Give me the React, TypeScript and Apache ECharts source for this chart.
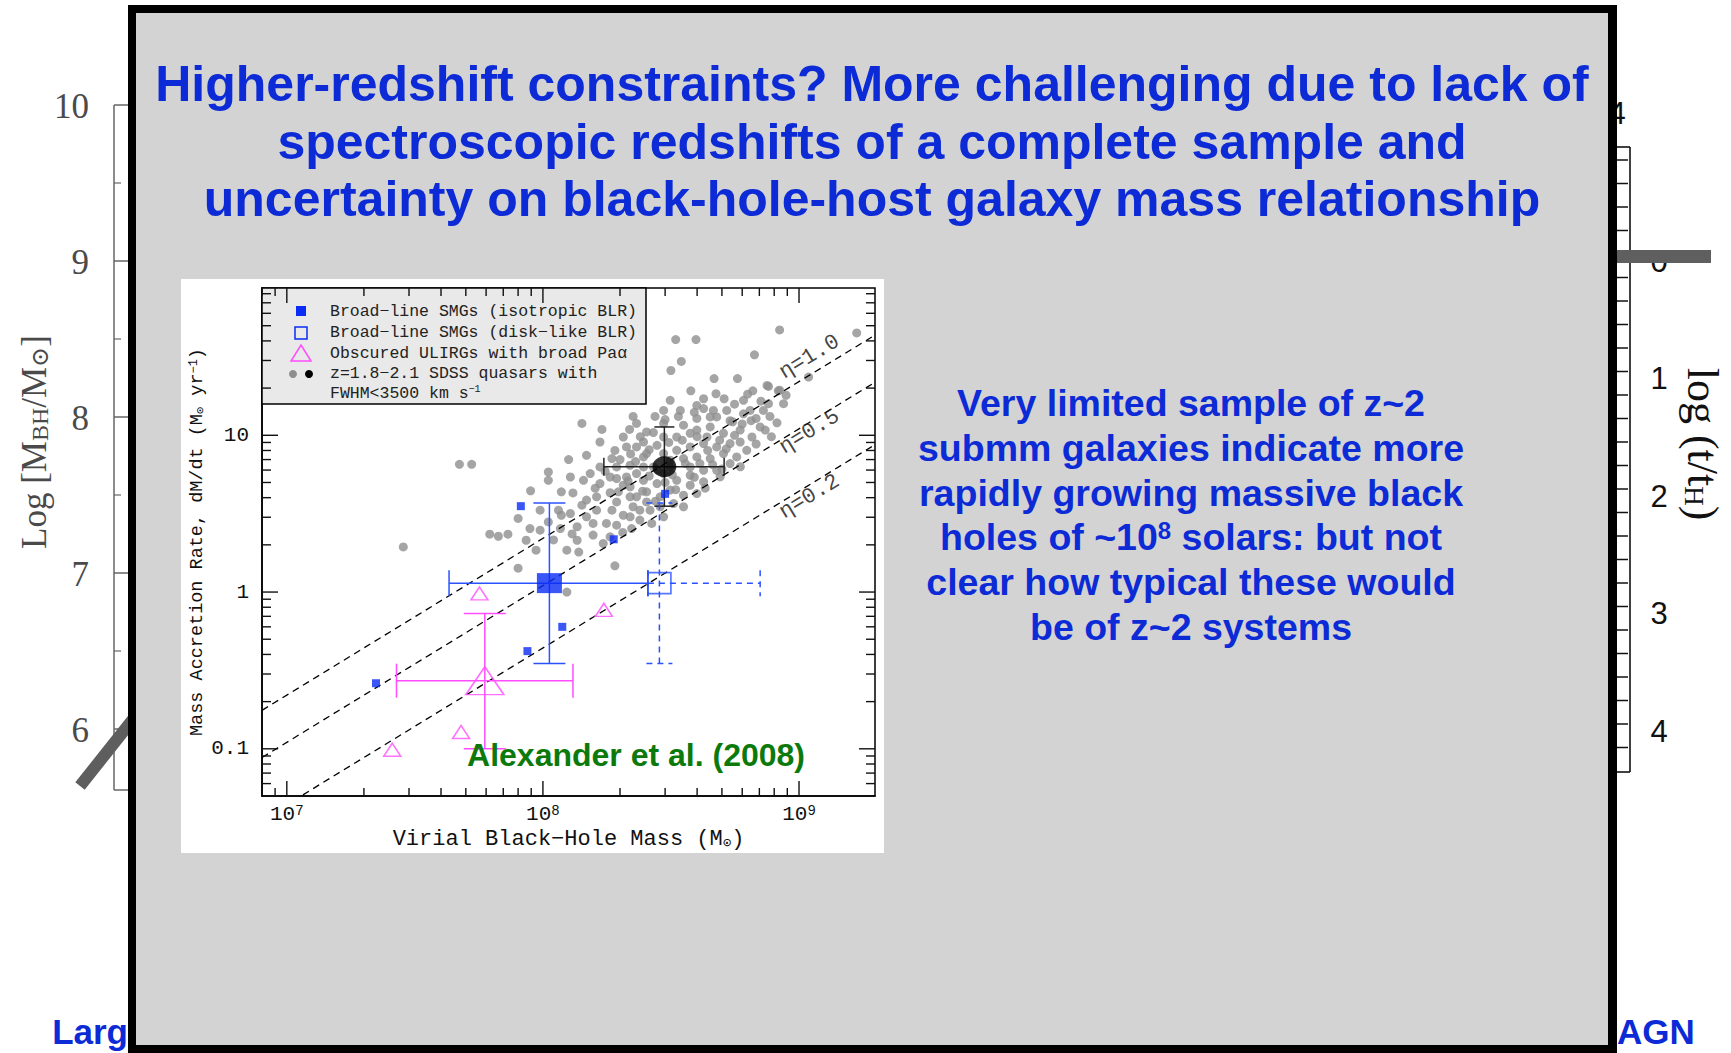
import React, { useEffect, useRef } from "react";
import * as echarts from "echarts";

const W = 1731;
const H = 1053;

// z=1.8-2.1 SDSS quasars with FWHM < 3500 km/s: [virial BH mass (Msun), accretion rate (Msun/yr)]
const sdssQuasars: [number, number][] = [
  [8.4e8, 47], [1.68e9, 45], [3.3e8, 40.8], [3.96e8, 40.8], [6.7e8, 32.6], [3.47e8, 29.6],
  [3.16e8, 25.9], [4.66e8, 23], [5.75e8, 23], [1.09e9, 23.5], [7.6e8, 20.5], [6.6e8, 19.2],
  [8.3e8, 19.2], [3.78e8, 19.2], [4.74e8, 18.4], [3.14e8, 16.7], [5.1e8, 17.1], [7.1e8, 16.5],
  [8.7e8, 15.9], [3.99e8, 15.5], [4.24e8, 14.8], [2.25e8, 13.2], [2.74e8, 13.2], [3.38e8, 13.2],
  [1.42e8, 11.9], [1.7e8, 10.9], [7.7e8, 13.2], [6.5e8, 12.4], [5.5e8, 12.2], [4.77e8, 13.1],
  [2.32e8, 11.9], [2.18e8, 10.9], [4.72e7, 6.53], [5.27e7, 6.53], [1.05e8, 5.83], [1.05e8, 5.16],
  [8.95e7, 4.42], [1.26e8, 7.0], [1.48e8, 7.45], [1.67e8, 9.06], [1.91e8, 8.0], [2.12e8, 8.43],
  [2.47e8, 9.06], [2.54e8, 10.5], [2.96e8, 9.75], [1.86e8, 7.1], [2.19e8, 6.44], [1.53e8, 5.7],
  [1.31e8, 4.29], [1.48e8, 3.86], [1.67e8, 4.92], [1.94e8, 5.3], [1.83e8, 4.3], [2.19e8, 4.69],
  [2.47e8, 5.16], [2.54e8, 4.36], [2.25e8, 3.5], [2.62e8, 3.33], [2.06e8, 3.09], [2.39e8, 2.88],
  [2.66e8, 2.74], [1.86e8, 3.33], [1.62e8, 3.33], [1.42e8, 3.58], [1.28e8, 3.17], [1.15e8, 3.33],
  [1.05e8, 2.8], [1.17e8, 2.54], [1.36e8, 2.61], [1.57e8, 2.74], [1.57e8, 2.31], [1.36e8, 2.14],
  [1.24e8, 1.85], [1.38e8, 1.8], [1.72e8, 2.04], [1.94e8, 2.67], [2.22e8, 2.54], [1.91e8, 1.47],
  [8.0e7, 1.42], [9.4e7, 1.85], [8.6e7, 2.14], [8.9e7, 2.54], [8.0e7, 2.95], [6.2e7, 2.34],
  [6.7e7, 2.27], [7.3e7, 2.34], [9.75e7, 2.48], [1.18e8, 3.09], [1.24e8, 1.0], [3.44e8, 14.4],
  [2.96e8, 14.4], [3.54e8, 11.6], [3.99e8, 10.8], [4.5e8, 11.3], [5.07e8, 10.3], [5.89e8, 10.8],
  [6.55e8, 9.75], [5.38e8, 8.85], [4.77e8, 8.43], [4.24e8, 8.85], [3.76e8, 8.43], [3.33e8, 8.02],
  [3.54e8, 7.1], [3.99e8, 7.28], [4.5e8, 7.1], [4.77e8, 5.98], [4.24e8, 5.98], [3.76e8, 5.56],
  [3.33e8, 5.16], [3.76e8, 4.8], [4.24e8, 5.05], [3.54e8, 4.15], [3.24e8, 3.67], [2.87e8, 4.05],
  [2.54e8, 3.76], [3.14e8, 6.93], [2.47e8, 7.28], [2.32e8, 5.7], [2.79e8, 4.92], [2.19e8, 4.05],
  [1.94e8, 3.76], [2.96e8, 3.02], [2.19e8, 3.02], [5.71e8, 7.28], [6.25e8, 8.02], [5.38e8, 6.6],
  [4.92e8, 5.43], [7.05e8, 11.3], [6.07e8, 13.7], [5.22e8, 14.4], [6.07e8, 16.7], [7.26e8, 14.4],
  [6.44e8, 14.4], [4.63e8, 14.4], [3.99e8, 12.8], [2.96e8, 11.9], [2.79e8, 8.63], [1.94e8, 6.28],
  [1.67e8, 6.28], [1.44e8, 5.16], [1.28e8, 5.42], [1.18e8, 4.36], [1.62e8, 4.05], [2.06e8, 4.8],
  [1.77e8, 2.74], [1.83e8, 2.25], [2.32e8, 4.05], [3.14e8, 6.28], [3.76e8, 6.28], [3.33e8, 9.75],
  [3.76e8, 10.3], [4.37e8, 9.75], [5.07e8, 7.64], [5.89e8, 9.06], [7.38e8, 10.8], [2.7e8, 6.28],
  [2.47e8, 6.28], [2.12e8, 5.42], [3.14e8, 4.47], [3.99e8, 4.25], [2.87e8, 3.5], [1.97e8, 4.36],
  [2.96e8, 7.64], [2.32e8, 8.43], [2.06e8, 9.75], [1.83e8, 5.42], [2.96e8, 5.7], [4.5e8, 13.1],
  [5.38e8, 12.4], [4.24e8, 17.1], [2.54e8, 7.64], [3.54e8, 3.5], [2.39e8, 3.33], [1.48e8, 3.02],
  [9.75e7, 3.33], [2.85e7, 1.94], [7.5e8, 20.8], [8.9e8, 18.0], [8.4e8, 19.4], [7.6e8, 15.9],
  [2.0e8, 7.0], [2.3e8, 6.8], [2.6e8, 5.5], [2.8e8, 6.0], [3.0e8, 5.0], [3.3e8, 4.5],
  [3.6e8, 6.6], [3.9e8, 5.4], [4.1e8, 6.6], [4.4e8, 8.0], [4.9e8, 9.3], [5.2e8, 8.2],
  [5.6e8, 10.0], [6.0e8, 11.8], [6.8e8, 12.8], [3.1e8, 9.0], [3.5e8, 9.3], [2.7e8, 10.4],
  [2.4e8, 9.8], [2.2e8, 7.6], [1.75e8, 5.9], [1.6e8, 4.6], [2.45e8, 4.4], [2.75e8, 3.8],
  [3.2e8, 5.6], [4.6e8, 6.5], [5.9e8, 6.3], [6.8e8, 8.8], [7.8e8, 9.8], [8.2e8, 12.0],
  [4.0e8, 9.8], [3.0e8, 12.6], [3.9e8, 14.0], [5.6e8, 15.8], [6.3e8, 18.3], [2.05e8, 2.4],
  [1.3e8, 2.35], [1.1e8, 2.15], [4.3e8, 4.6], [5.0e8, 6.1], [2.15e8, 5.1], [2.6e8, 8.1],
];

// SDSS mean point with errors: [M, rate, Mlo, Mhi, rateLo, rateHi]
const sdssMeanErr = [[2.98e8, 6.3, 1.73e8, 5.1e8, 3.53, 11.3]];

// Broad-line SMGs, isotropic BLR
const smgIsotropic: [number, number][] = [
  [8.2e7, 3.53], [3.0e8, 4.23], [1.89e8, 2.17], [1.19e8, 0.6], [8.7e7, 0.42], [2.23e7, 0.262],
];
const smgIsotropicErr = [[1.06e8, 1.14, 4.3e7, 2.57e8, 0.35, 3.7]];

// Broad-line SMGs, disk-like BLR (mean only)
const smgDiskErr = [[2.85e8, 1.14, 2.57e8, 7.05e8, 0.35, 3.7]];

// Obscured ULIRGs with broad Pa-alpha
const ulirgs: [number, number][] = [[5.65e7, 0.98], [1.73e8, 0.77], [4.79e7, 0.128], [2.58e7, 0.0986]];
const ulirgErr = [[5.93e7, 0.272, 2.68e7, 1.31e8, 0.1, 0.73]];

// Eddington ratios of the reference lines and where their labels sit
const etaValues = [1.0, 0.5, 0.2];
const etaLabelPos: [number, number][] = [[1.1e9, 31.5], [1.1e9, 10.5], [1.1e9, 4.05]];
const RATE_EDD_1E8 = 2.2; // Msun/yr accreted at eta=1 by a 1e8 Msun black hole

const massRange = [8e6, 1.98e9];
const rateRange = [0.05, 87];
const massMajor = [1e7, 1e8, 1e9];
const massMinor = [8e6, 9e6, 2e7, 3e7, 4e7, 5e7, 6e7, 7e7, 8e7, 9e7, 2e8, 3e8, 4e8, 5e8, 6e8, 7e8, 8e8, 9e8];
const rateMajor = [0.1, 1, 10];
const rateMinor = [0.06, 0.07, 0.08, 0.09, 0.2, 0.3, 0.4, 0.5, 0.6, 0.7, 0.8, 0.9, 2, 3, 4, 5, 6, 7, 8, 9, 20, 30, 40, 50, 60, 70, 80];

// Axis labels of the slide's underlying figure
const bgMassLabels = [10, 9, 8, 7, 6];
const bgTimeLabels = [0, 1, 2, 3, 4];

const titleLines = [
  "Higher-redshift constraints? More challenging due to lack of",
  "spectroscopic redshifts of a complete sample and",
  "uncertainty on black-hole-host galaxy mass relationship",
];
const noteLines = [
  "Very limited sample of z~2",
  "submm galaxies indicate more",
  "rapidly growing massive black",
  "holes of ~10{s|8} solars: but not",
  "clear how typical these would",
  "be of z~2 systems",
];

const MONO = '"Liberation Mono", "DejaVu Sans Mono", monospace';
const SERIF = '"Liberation Serif", "DejaVu Serif", serif';
const SANS = '"Liberation Sans", Arial, sans-serif';
const SLIDE = '"Liberation Sans", Arial, sans-serif';
const SLIDE_BLUE = "#0c2bd6";
const BLUE = "#0a2cf5";
const BLUE_LINE = "#2a52ff";
const MAGENTA = "#ff4dff";
const INK = "#111";

function errorBars(data: number[][], color: string, dashed: boolean, capH: number, capV: number, z: number) {
  return {
    type: "custom",
    data,
    z,
    silent: true,
    encode: { x: 0, y: 1 },
    renderItem: (_p: any, api: any) => {
      const x = api.value(0);
      const y = api.value(1);
      const pL = api.coord([api.value(2), y]);
      const pR = api.coord([api.value(3), y]);
      const pB = api.coord([x, api.value(4)]);
      const pT = api.coord([x, api.value(5)]);
      const style = { stroke: color, lineWidth: 1.5, lineDash: dashed ? [6, 5] : null, fill: null };
      const seg = (x1: number, y1: number, x2: number, y2: number) => ({
        type: "line",
        shape: { x1, y1, x2, y2 },
        style,
      });
      return {
        type: "group",
        children: [
          seg(pL[0], pL[1], pR[0], pR[1]),
          seg(pL[0], pL[1] - capH, pL[0], pL[1] + capH),
          seg(pR[0], pR[1] - capH, pR[0], pR[1] + capH),
          seg(pB[0], pB[1], pT[0], pT[1]),
          seg(pB[0] - capV, pB[1], pB[0] + capV, pB[1]),
          seg(pT[0] - capV, pT[1], pT[0] + capV, pT[1]),
        ],
      };
    },
  };
}

function buildGraphics() {
  const g: any[] = [];
  const ln = (x1: number, y1: number, x2: number, y2: number, stroke: string, lw: number, z: number) =>
    g.push({ type: "line", z, shape: { x1, y1, x2, y2 }, style: { stroke, lineWidth: lw } });

  // underlying figure, left axis
  const yMass = (v: number) => 105 + (10 - v) * 156;
  ln(114, yMass(10), 114, 790, "#666", 1.5, -10);
  ln(114, 790, 130, 790, "#666", 1.5, -10);
  bgMassLabels.forEach((v) => {
    ln(114, yMass(v), 130, yMass(v), "#666", 1.5, -10);
    if (v > 6) ln(114, yMass(v - 0.5), 121, yMass(v - 0.5), "#666", 1.2, -10);
    g.push({
      type: "text", z: -10, x: 89, y: yMass(v) + 1,
      style: { text: String(v), textAlign: "right", textVerticalAlign: "middle", fontFamily: SERIF, fontSize: 35, fill: "#4a4a4a" },
    });
  });
  g.push({
    type: "text", z: -10, x: 34, y: 442, rotation: Math.PI / 2,
    style: {
      text: "Log [M{sub|BH}/M{sub|⊙}]", textAlign: "center", textVerticalAlign: "middle",
      fontFamily: SERIF, fontSize: 35, fill: "#4a4a4a",
      rich: { sub: { fontFamily: SERIF, fontSize: 24, fill: "#4a4a4a", verticalAlign: "bottom" } },
    },
  });
  ln(80, 786, 134, 718, "#5e5e5e", 12, -10);

  // underlying figure, right axis
  const yTime = (v: number) => 261 + v * 117.5;
  ln(1630, 147, 1630, 772, INK, 1.6, -10);
  ln(1610, 147, 1630, 147, INK, 1.6, -10);
  ln(1610, 772, 1630, 772, INK, 1.6, -10);
  for (let k = -4; k <= 21; k++) ln(1614, 254 + 23.5 * k, 1628, 254 + 23.5 * k, INK, 1.5, -10);
  bgTimeLabels.forEach((v) => {
    g.push({
      type: "text", z: -10, x: 1659, y: yTime(v),
      style: { text: String(v), textAlign: "center", textVerticalAlign: "middle", fontFamily: SANS, fontSize: 31, fill: INK },
    });
  });
  g.push({
    type: "text", z: -10, x: 1617, y: 113,
    style: { text: "4", textAlign: "center", textVerticalAlign: "middle", fontFamily: SANS, fontSize: 31, fill: INK },
  });
  g.push({
    type: "text", z: -10, x: 1702, y: 444, rotation: -Math.PI / 2,
    style: {
      text: "log (t/t{sub|H})", textAlign: "center", textVerticalAlign: "middle",
      fontFamily: SERIF, fontSize: 44, fill: INK,
      rich: { sub: { fontFamily: SERIF, fontSize: 27, fill: INK, verticalAlign: "bottom" } },
    },
  });
  g.push({ type: "rect", z: -9, shape: { x: 1616, y: 250, width: 95, height: 13 }, style: { fill: "#5f5f5f" } });
  g.push({
    type: "text", z: -10, x: 128, y: 1031,
    style: { text: "Larg", textAlign: "right", textVerticalAlign: "middle", fontFamily: SLIDE, fontWeight: "bold", fontSize: 35, fill: SLIDE_BLUE },
  });
  g.push({
    type: "text", z: -10, x: 1617, y: 1031,
    style: { text: "AGN", textAlign: "left", textVerticalAlign: "middle", fontFamily: SLIDE, fontWeight: "bold", fontSize: 35, fill: SLIDE_BLUE },
  });

  // slide frame
  g.push({ type: "rect", z: -5, shape: { x: 128, y: 5, width: 1489, height: 1048 }, style: { fill: "#000" } });
  g.push({ type: "rect", z: -5, shape: { x: 136, y: 13, width: 1472, height: 1032 }, style: { fill: "#d3d3d3" } });
  // white panel of the embedded figure
  g.push({ type: "rect", z: -4, shape: { x: 181, y: 279, width: 703, height: 574 }, style: { fill: "#fff" } });

  // legend panel
  g.push({
    type: "rect", z: 1, shape: { x: 262, y: 288, width: 384, height: 116 },
    style: { fill: "#e9e9e9", stroke: "#000", lineWidth: 1.5 },
  });
  const legText = (y: number, text: string) =>
    g.push({
      type: "text", z: 3, x: 330, y,
      style: {
        text, textAlign: "left", textVerticalAlign: "middle", fontFamily: MONO, fontSize: 16.5, fill: "#222",
        rich: { sup: { fontFamily: MONO, fontSize: 10, fill: "#222", verticalAlign: "top" } },
      },
    });
  g.push({ type: "rect", z: 3, shape: { x: 296, y: 306, width: 10, height: 10 }, style: { fill: BLUE } });
  legText(311, "Broad−line SMGs (isotropic BLR)");
  g.push({ type: "rect", z: 3, shape: { x: 295, y: 327, width: 12, height: 12 }, style: { fill: null, stroke: BLUE, lineWidth: 1.5 } });
  legText(332, "Broad−line SMGs (disk−like BLR)");
  g.push({
    type: "polygon", z: 3, shape: { points: [[301, 345], [291, 361], [311, 361]] },
    style: { fill: null, stroke: MAGENTA, lineWidth: 1.5 },
  });
  legText(353, "Obscured ULIRGs with broad Paα");
  g.push({ type: "circle", z: 3, shape: { cx: 293, cy: 374, r: 4 }, style: { fill: "#8e8e8e" } });
  g.push({ type: "circle", z: 3, shape: { cx: 309, cy: 374, r: 4 }, style: { fill: "#000" } });
  legText(373, "z=1.8−2.1 SDSS quasars with");
  legText(393, "FWHM<3500 km s{sup|−1}");

  g.push({
    type: "text", z: 10, x: 636, y: 755,
    style: { text: "Alexander et al. (2008)", textAlign: "center", textVerticalAlign: "middle", fontFamily: SANS, fontWeight: "bold", fontSize: 32, fill: "#0b7a0b" },
  });

  // slide title
  titleLines.forEach((t, i) => {
    g.push({
      type: "text", z: 10, x: 872, y: 84 + i * 57.5,
      style: { text: t, textAlign: "center", textVerticalAlign: "middle", fontFamily: SLIDE, fontWeight: "bold", fontSize: 50, fill: SLIDE_BLUE },
    });
  });
  // side note
  noteLines.forEach((t, i) => {
    g.push({
      type: "text", z: 10, x: 1191, y: 403 + i * 44.8,
      style: {
        text: t, textAlign: "center", textVerticalAlign: "middle", fontFamily: SLIDE, fontWeight: "bold", fontSize: 37.5, fill: SLIDE_BLUE,
        rich: { s: { fontFamily: SLIDE, fontWeight: "bold", fontSize: 24, fill: SLIDE_BLUE, verticalAlign: "top" } },
      },
    });
  });
  return g;
}

function isPow10(v: number) {
  const e = Math.log10(v);
  return Math.abs(e - Math.round(e)) < 1e-6;
}

function buildOption() {
  const tickData = (vals: number[], major: number, axis: "x" | "y") =>
    vals.map((v) => (axis === "x" ? [v, rateRange[0], major] : [massRange[0], v, major]));

  const xTicks = {
    type: "custom", z: 6, silent: true, encode: { x: 0, y: 1 },
    data: [...tickData(massMajor, 1, "x"), ...tickData(massMinor, 0, "x")],
    renderItem: (_p: any, api: any) => {
      const v = api.value(0);
      const len = api.value(2) === 1 ? 15 : 8;
      const b = api.coord([v, rateRange[0]]);
      const t = api.coord([v, rateRange[1]]);
      const style = { stroke: INK, lineWidth: 1.4 };
      return {
        type: "group",
        children: [
          { type: "line", shape: { x1: b[0], y1: b[1], x2: b[0], y2: b[1] - len }, style },
          { type: "line", shape: { x1: t[0], y1: t[1], x2: t[0], y2: t[1] + len }, style },
        ],
      };
    },
  };
  const yTicks = {
    type: "custom", z: 6, silent: true, encode: { x: 0, y: 1 },
    data: [...tickData(rateMajor, 1, "y"), ...tickData(rateMinor, 0, "y")],
    renderItem: (_p: any, api: any) => {
      const v = api.value(1);
      const len = api.value(2) === 1 ? 16 : 9;
      const l = api.coord([massRange[0], v]);
      const r = api.coord([massRange[1], v]);
      const style = { stroke: INK, lineWidth: 1.4 };
      return {
        type: "group",
        children: [
          { type: "line", shape: { x1: l[0], y1: l[1], x2: l[0] + len, y2: l[1] }, style },
          { type: "line", shape: { x1: r[0], y1: r[1], x2: r[0] - len, y2: r[1] }, style },
        ],
      };
    },
  };

  const etaLines = etaValues.map((eta) => ({
    type: "line", z: 3, silent: true, symbol: "none", clip: true,
    data: massRange.map((m) => [m, (eta * RATE_EDD_1E8 * m) / 1e8]),
    lineStyle: { color: "#000", width: 1.3, type: [7, 5] },
  }));

  return {
    animation: false,
    backgroundColor: "#fff",
    grid: { left: 262, top: 288, width: 613, height: 508, show: true, borderColor: "#000", borderWidth: 1.5, backgroundColor: "transparent" },
    xAxis: {
      type: "log", logBase: 10, min: massRange[0], max: massRange[1],
      axisLine: { show: true, lineStyle: { color: "#000", width: 1.5 } },
      axisTick: { show: false }, splitLine: { show: false },
      axisLabel: {
        margin: 8, color: INK,
        formatter: (v: number) => (isPow10(v) ? `{b|10}{s|${Math.round(Math.log10(v))}}` : ""),
        rich: {
          b: { fontFamily: MONO, fontSize: 21, color: INK },
          s: { fontFamily: MONO, fontSize: 14, color: INK, verticalAlign: "top" },
        },
      },
      name: "Virial Black−Hole Mass (M{sub|⊙})",
      nameLocation: "middle", nameGap: 32,
      nameTextStyle: {
        fontFamily: MONO, fontSize: 22, color: INK,
        rich: { sub: { fontFamily: MONO, fontSize: 14, color: INK, verticalAlign: "bottom" } },
      },
    },
    yAxis: {
      type: "log", logBase: 10, min: rateRange[0], max: rateRange[1],
      axisLine: { show: true, lineStyle: { color: "#000", width: 1.5 } },
      axisTick: { show: false }, splitLine: { show: false },
      axisLabel: {
        margin: 13, color: INK, fontFamily: MONO, fontSize: 21,
        formatter: (v: number) => (isPow10(v) ? String(Number(v.toPrecision(1))) : ""),
      },
      name: "Mass Accretion Rate, dM/dt (M{sub|⊙} yr{sup|−1})",
      nameLocation: "middle", nameGap: 52,
      nameTextStyle: {
        fontFamily: MONO, fontSize: 18.5, color: INK,
        rich: {
          sub: { fontFamily: MONO, fontSize: 12, color: INK, verticalAlign: "bottom" },
          sup: { fontFamily: MONO, fontSize: 12, color: INK, verticalAlign: "top" },
        },
      },
    },
    graphic: { elements: buildGraphics() },
    series: [
      {
        type: "scatter", z: 2, silent: true, data: sdssQuasars,
        symbol: "circle", symbolSize: 9, itemStyle: { color: "#8e8e8e" },
      },
      ...etaLines,
      {
        type: "scatter", z: 7, silent: true, symbolSize: 0,
        data: etaLabelPos,
        label: {
          show: true, position: "inside", rotate: 31.5, color: INK, fontFamily: MONO, fontSize: 22,
          formatter: (p: any) => `η=${etaValues[p.dataIndex].toFixed(1)}`,
        },
      },
      errorBars(sdssMeanErr, "#222", false, 9, 10, 4),
      errorBars(smgIsotropicErr, BLUE_LINE, false, 13, 16, 4),
      errorBars(smgDiskErr, BLUE_LINE, true, 13, 13, 4),
      errorBars(ulirgErr, MAGENTA, false, 17, 21, 4),
      {
        type: "scatter", z: 5, silent: true, data: sdssMeanErr.map((d) => [d[0], d[1]]),
        symbol: "circle", symbolSize: [24, 21], itemStyle: { color: "#000" },
      },
      {
        type: "scatter", z: 5, silent: true, data: smgIsotropic,
        symbol: "rect", symbolSize: 8, itemStyle: { color: BLUE },
      },
      {
        type: "scatter", z: 5, silent: true, data: smgIsotropicErr.map((d) => [d[0], d[1]]),
        symbol: "rect", symbolSize: [25, 20], itemStyle: { color: BLUE },
      },
      {
        type: "scatter", z: 5, silent: true, data: smgDiskErr.map((d) => [d[0], d[1]]),
        symbol: "rect", symbolSize: [23, 21],
        itemStyle: { color: "rgba(0,0,0,0)", borderColor: BLUE_LINE, borderWidth: 1.6 },
      },
      {
        type: "scatter", z: 5, silent: true, data: ulirgs,
        symbol: "triangle", symbolSize: [17, 13],
        itemStyle: { color: "rgba(0,0,0,0)", borderColor: MAGENTA, borderWidth: 1.5 },
      },
      {
        type: "scatter", z: 5, silent: true, data: ulirgErr.map((d) => [d[0], d[1]]),
        symbol: "triangle", symbolSize: [38, 28],
        itemStyle: { color: "rgba(0,0,0,0)", borderColor: MAGENTA, borderWidth: 1.6 },
      },
      xTicks,
      yTicks,
    ],
  };
}

export default function App() {
  const ref = useRef<HTMLDivElement>(null);
  useEffect(() => {
    const chart = echarts.init(ref.current!, null, { renderer: "svg" });
    chart.setOption(buildOption() as any);
    return () => chart.dispose();
  }, []);
  return <div ref={ref} style={{ position: "fixed", left: 0, top: 0, width: W, height: H }} />;
}
